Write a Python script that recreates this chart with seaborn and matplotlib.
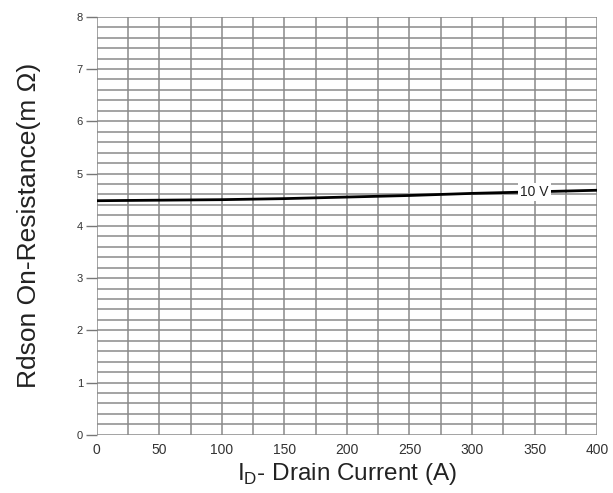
import matplotlib
matplotlib.use("Agg")
import matplotlib.pyplot as plt
import numpy as np
import pandas as pd
import seaborn as sns

# values
drain_current = [0, 50, 100, 150, 200, 250, 300, 350, 400]
rdson_10v = [4.48, 4.49, 4.50, 4.52, 4.55, 4.58, 4.62, 4.65, 4.68]
x_ticks = [0, 50, 100, 150, 200, 250, 300, 350, 400]
y_ticks = [0, 1, 2, 3, 4, 5, 6, 7, 8]
curve_label = "10 V"

df = pd.DataFrame({"id": drain_current, "rdson": rdson_10v})

sns.set_style("white")
plt.rcParams["font.family"] = ["Liberation Sans", "DejaVu Sans"]

fig = plt.figure(figsize=(6.13, 4.93), dpi=100)
ax = fig.add_axes([0.158, 0.118, 0.816, 0.848])

sns.lineplot(data=df, x="id", y="rdson", color="black", linewidth=2, ax=ax)

ax.set_xlim(0, 400)
ax.set_ylim(0, 8)
ax.set_xticks(x_ticks)
ax.set_yticks(y_ticks)
ax.set_xticks(np.arange(0, 401, 25), minor=True)
ax.set_yticks(np.arange(0, 8.01, 0.2), minor=True)
ax.grid(which="both", color="#8a8a8a", linewidth=1.1)
ax.set_axisbelow(True)
for s in ax.spines.values():
    s.set_visible(False)

ax.tick_params(axis="y", which="major", left=True, length=8, width=1,
               color="#777777", labelsize=8, labelcolor="#333333", pad=2)
ax.tick_params(axis="x", which="major", bottom=False, length=0, labelsize=10,
               labelcolor="#333333", pad=6)
ax.tick_params(which="minor", length=0)

ax.text(350, rdson_10v[-2], curve_label, ha="center", va="center", fontsize=10,
        color="#222222", bbox=dict(facecolor="white", edgecolor="none", pad=1.5))

ax.set_xlabel("I$_\\mathregular{D}$- Drain Current (A)", fontsize=17.5, color="#222222",
              labelpad=3)
ax.set_ylabel("Rdson On-Resistance(m Ω)", fontsize=19, color="#222222", labelpad=26)

fig.savefig("out.png", dpi=100)
